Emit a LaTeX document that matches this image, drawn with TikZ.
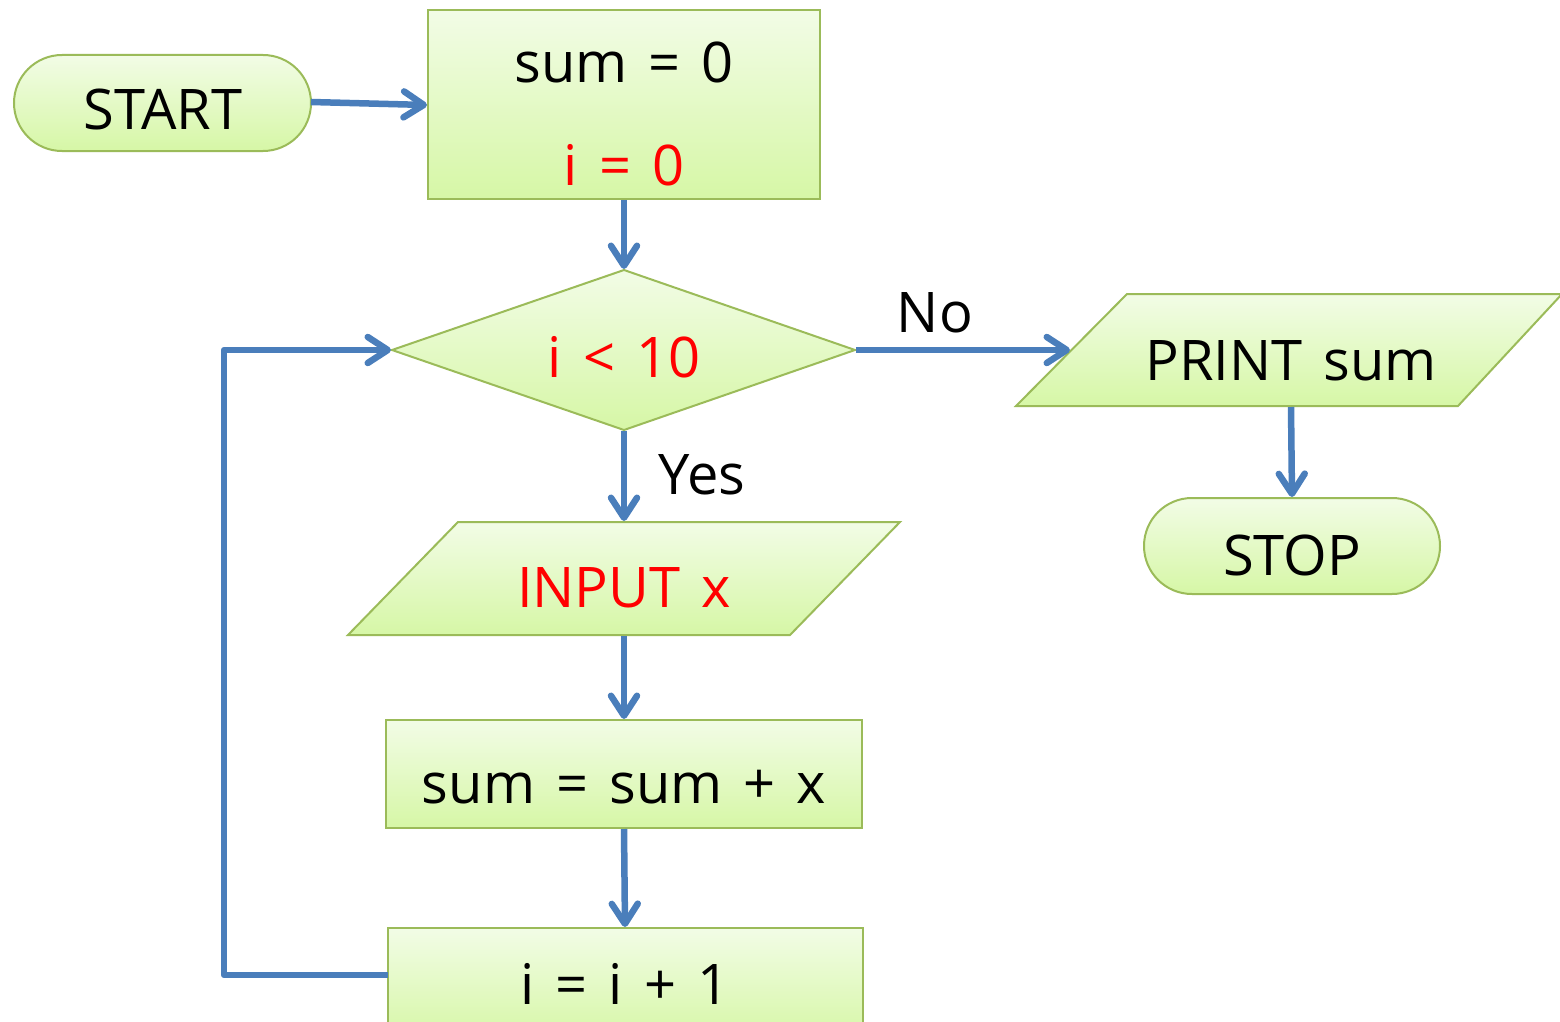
\documentclass[tikz,border=0pt]{standalone}
\usepackage{fontspec}
\setmainfont[WordSpace=1.45]{Open Sans}
\usetikzlibrary{arrows.meta}
\definecolor{edgegreen}{HTML}{9BBB59}
\definecolor{flowblue}{HTML}{4A7EBB}
\definecolor{filltop}{HTML}{F2FCE6}
\definecolor{fillbot}{HTML}{D6F7A6}
\definecolor{txtred}{HTML}{FF0000}
\tikzset{
  shapebox/.style={draw=edgegreen, line width=2, top color=filltop, bottom color=fillbot},
  flowline/.style={draw=flowblue, line width=6.5, line join=round, -{Straight Barb[length=20, width=26, line cap=round, line join=round]}},
  lbl/.style={font=\fontsize{56}{60}\selectfont, inner sep=0, anchor=base}
}
\begin{document}
\begin{tikzpicture}[x=1pt,y=-1pt]
\useasboundingbox (0,0) rectangle (1560,1022);
% shapes
\draw[shapebox, rounded corners=48] (14,55) rectangle (311,151);
\draw[shapebox] (428,10) rectangle (820,199);
\draw[shapebox] (392,350) -- (624,270) -- (855,350) -- (624,430) -- cycle;
\draw[shapebox] (1127,294) -- (1562,294) -- (1458,406) -- (1016,406) -- cycle;
\draw[shapebox, rounded corners=48] (1144,498) rectangle (1440,594);
\draw[shapebox] (458,522) -- (900,522) -- (790,635) -- (348,635) -- cycle;
\draw[shapebox] (386,720) rectangle (862,828);
\draw[shapebox] (388,928) rectangle (863,1040);
% connection points
\coordinate (startE) at (311,102);
\coordinate (initW) at (427,105);
\coordinate (initS) at (624,200);
\coordinate (decN) at (624,269);
\coordinate (decE) at (856,350);
\coordinate (decS) at (624,431);
\coordinate (decW) at (391,350);
\coordinate (printW) at (1070,350);
\coordinate (printS) at (1291,407);
\coordinate (stopN) at (1292,497);
\coordinate (inN) at (624,521);
\coordinate (inS) at (624,636);
\coordinate (sumN) at (624,719);
\coordinate (sumS) at (624,829);
\coordinate (incN) at (625,927);
\coordinate (incW) at (388,975);
\coordinate (loopTop) at (224,350);
% texts
\node[lbl] (start) at (163,130) {START};
\node[lbl] (init1) at (624,83) {sum = 0};
\node[lbl, text=txtred] (init2) at (624,185) {i = 0};
\node[lbl, text=txtred] (dec) at (624,377) {i < 10};
\node[lbl] (no) at (935,332) {No};
\node[lbl] (print) at (1291,380) {PRINT sum};
\node[lbl] (stop) at (1292,575) {STOP};
\node[lbl] (yes) at (702,494) {Yes};
\node[lbl, text=txtred] (input) at (624,607) {INPUT x};
\node[lbl] (sum) at (624,803) {sum = sum + x};
\node[lbl] (inc) at (625,1004) {i = i + 1};
% connectors
\draw[flowline] (startE) -- (initW);
\draw[flowline] (initS) -- (decN);
\draw[flowline] (decE) -- (printW);
\draw[flowline] (printS) -- (stopN);
\draw[flowline] (decS) -- (inN);
\draw[flowline] (inS) -- (sumN);
\draw[flowline] (sumS) -- (incN);
\draw[flowline] (incW) -| (loopTop) -- (decW);
\end{tikzpicture}
\end{document}
